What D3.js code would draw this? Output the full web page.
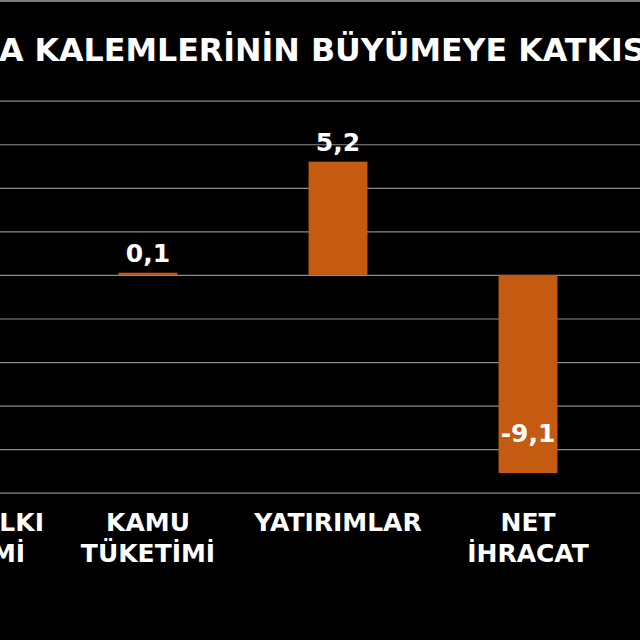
<!DOCTYPE html>
<meta charset="utf-8">
<title>Harcama kalemlerinin büyümeye katkısı</title>
<style>
  body { margin: 0; background: #000; }
  svg { display: block; font-family: "DejaVu Sans", Verdana, sans-serif; font-weight: bold; }
</style>
<body>
<div id="chart"></div>

<script src="https://d3js.org/d3.v7.min.js"></script>
<script>

  // data
  const categories = ["HANE HALKI TÜKETİMİ", "KAMU TÜKETİMİ", "YATIRIMLAR", "NET İHRACAT"];
  const values = [5.0, 0.1, 5.2, -9.1];
  const yTicks = [-10, -8, -6, -4, -2, 0, 2, 4, 6, 8];
  const title = "HARCAMA KALEMLERİNİN BÜYÜMEYE KATKISI";

  const W = 640, H = 640;

  // plot area is wider than the window, the first category falls off the left edge
  const plotLeft = -137, plotRight = 623;

  const svg = d3.select("#chart")
    .append("svg")
      .attr("width", W)
      .attr("height", H);

  svg.append("rect")
    .attr("width", W)
    .attr("height", H)
    .attr("fill", "#000");

  // thin border at top
  svg.append("line")
    .attr("x1", 0).attr("x2", W)
    .attr("y1", 1).attr("y2", 1)
    .attr("stroke", "#a6a6a6")
    .attr("stroke-width", 1.5);

  const x = d3.scaleBand()
    .domain(categories)
    .range([plotLeft, plotRight])
    .paddingInner(0.69)
    .paddingOuter(0.345);

  const y = d3.scaleLinear()
    .domain([-10, 8])
    .range([492.7, 100.7]);

  // gridlines
  const grid = svg.append("g")
    .attr("transform", `translate(${plotLeft - 100},0)`)
    .call(d3.axisLeft(y).tickValues(yTicks).tickSize(-(W - plotLeft + 200)).tickFormat(""));
  grid.select(".domain").remove();
  grid.selectAll(".tick line")
    .attr("stroke", "#8c8c8c")
    .attr("stroke-width", 1.2);

  // bars
  svg.selectAll("rect.bar")
    .data(values)
    .join("rect")
      .attr("class", "bar")
      .attr("x", (d, i) => x(categories[i]))
      .attr("width", x.bandwidth())
      .attr("y", d => y(Math.max(0, d)))
      .attr("height", d => Math.abs(y(d) - y(0)))
      .attr("fill", "#c55a11");

  // value labels
  const fmt = d => d.toFixed(1).replace(".", ",");
  svg.selectAll("text.val")
    .data(values)
    .join("text")
      .attr("class", "val")
      .attr("x", (d, i) => x(categories[i]) + x.bandwidth() / 2)
      .attr("y", d => d >= 0 ? y(d) - 11 : y(d) - 31)
      .attr("text-anchor", "middle")
      .attr("fill", "#fff")
      .attr("font-size", 25)
      .text(fmt);

  // category axis
  const xAxis = svg.append("g")
    .attr("transform", "translate(0,505)")
    .call(d3.axisBottom(x).tickSize(0).tickPadding(0))
    .attr("font-family", null)
    .attr("font-size", null);
  xAxis.select(".domain").remove();
  xAxis.selectAll(".tick text")
    .attr("fill", "#fff")
    .attr("font-size", 25)
    .each(function(d) {
      const t = d3.select(this);
      const cut = d.lastIndexOf(" ");
      const lines = cut > 0 ? [d.slice(0, cut), d.slice(cut + 1)] : [d];
      t.text(null).attr("y", null).attr("dy", null);
      lines.forEach((s, k) => {
        t.append("tspan")
          .attr("x", 0)
          .attr("y", 26 + k * 31)
          .text(s);
      });
    });

  // title, wider than the window: only the middle part shows
  const titleText = svg.append("text")
    .attr("y", 61)
    .attr("fill", "#fff")
    .attr("font-size", 31.7)
    .text(title);
  const prefix = svg.append("text")
    .attr("font-size", 31.7)
    .text("HARCAM");
  const prefixLen = prefix.node().getComputedTextLength();
  prefix.remove();
  titleText.attr("x", -prefixLen - 1);

</script>
</body>
